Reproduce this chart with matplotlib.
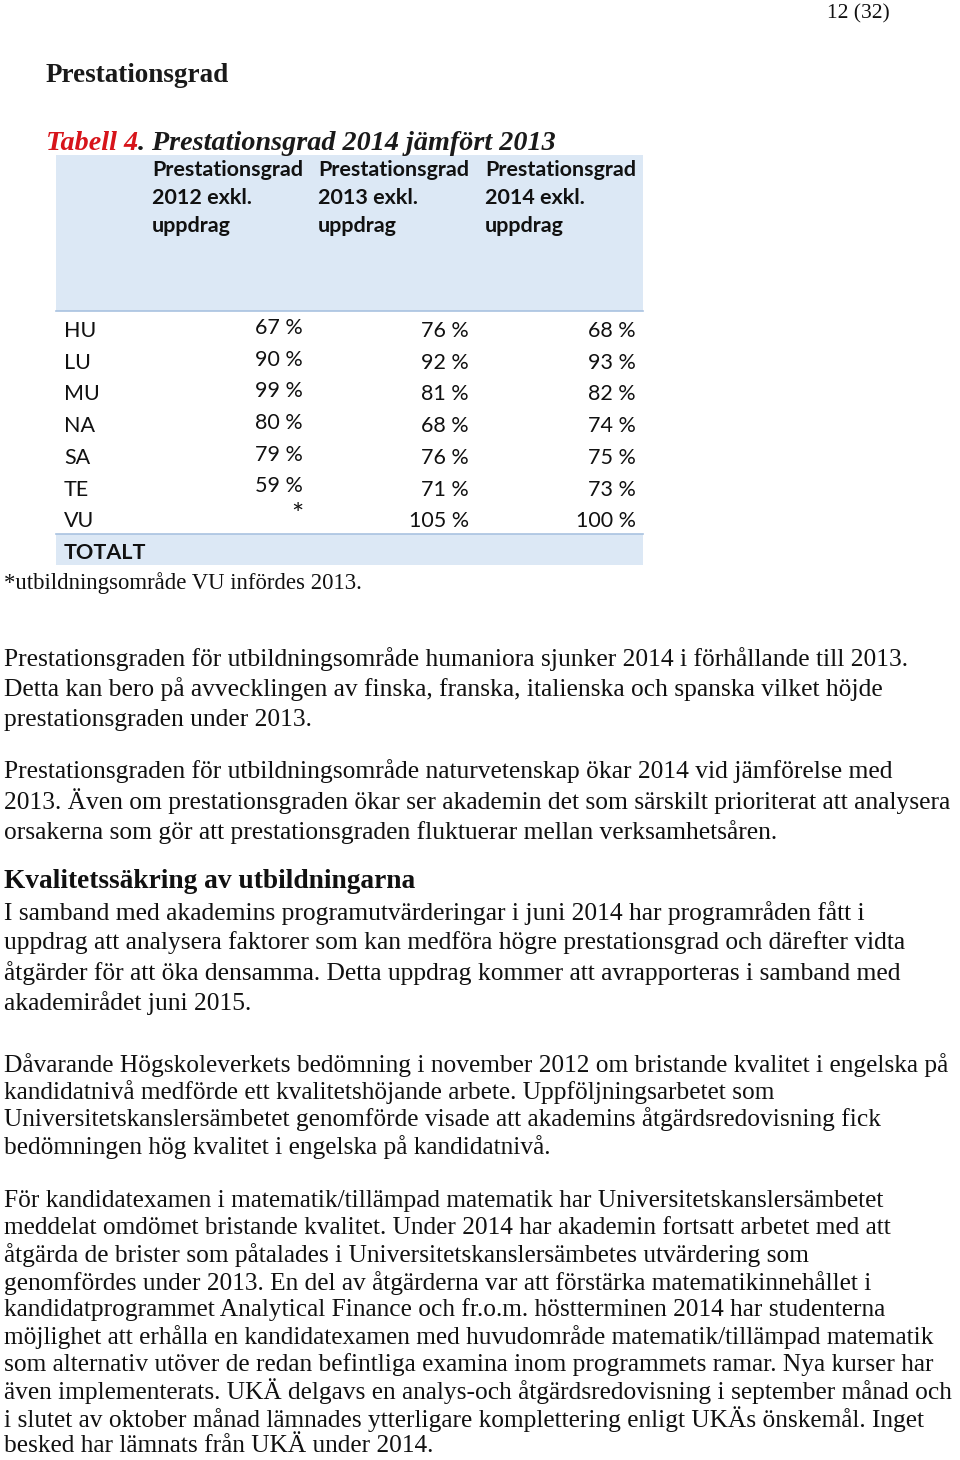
import matplotlib
matplotlib.use("Agg")
import matplotlib.pyplot as plt
from matplotlib.patches import Rectangle

# ---------------- data ----------------
page_label = "12 (32)"
section_title = "Prestationsgrad"
table_caption_red = "Tabell 4"
table_caption_rest = ". Prestationsgrad 2014 jämfört 2013"
col_headers = [
    ["Prestationsgrad", "2012 exkl.", "uppdrag"],
    ["Prestationsgrad", "2013 exkl.", "uppdrag"],
    ["Prestationsgrad", "2014 exkl.", "uppdrag"],
]
categories = ["HU", "LU", "MU", "NA", "SA", "TE", "VU"]
grad_2012 = [67, 90, 99, 80, 79, 59, None]
grad_2013 = [76, 92, 81, 68, 76, 71, 105]
grad_2014 = [68, 93, 82, 74, 75, 73, 100]
total_label = "TOTALT"
footnote = "*utbildningsområde VU infördes 2013."

para1 = ["Prestationsgraden för utbildningsområde humaniora sjunker 2014 i förhållande till 2013.",
         "Detta kan bero på avvecklingen av finska, franska, italienska och spanska vilket höjde",
         "prestationsgraden under 2013."]
para2 = ["Prestationsgraden för utbildningsområde naturvetenskap ökar 2014 vid jämförelse med",
         "2013. Även om prestationsgraden ökar ser akademin det som särskilt prioriterat att analysera",
         "orsakerna som gör att prestationsgraden fluktuerar mellan verksamhetsåren."]
heading2 = "Kvalitetssäkring av utbildningarna"
para3 = ["I samband med akademins programutvärderingar i juni 2014 har programråden fått i",
         "uppdrag att analysera faktorer som kan medföra högre prestationsgrad och därefter vidta",
         "åtgärder för att öka densamma. Detta uppdrag kommer att avrapporteras i samband med",
         "akademirådet juni 2015."]
para4 = ["Dåvarande Högskoleverkets bedömning i november 2012 om bristande kvalitet i engelska på",
         "kandidatnivå medförde ett kvalitetshöjande arbete. Uppföljningsarbetet som",
         "Universitetskanslersämbetet genomförde visade att akademins åtgärdsredovisning fick",
         "bedömningen hög kvalitet i engelska på kandidatnivå."]
para5 = ["För kandidatexamen i matematik/tillämpad matematik har Universitetskanslersämbetet",
         "meddelat omdömet bristande kvalitet. Under 2014 har akademin fortsatt arbetet med att",
         "åtgärda de brister som påtalades i Universitetskanslersämbetes utvärdering som",
         "genomfördes under 2013. En del av åtgärderna var att förstärka matematikinnehållet i",
         "kandidatprogrammet Analytical Finance och fr.o.m. höstterminen 2014 har studenterna",
         "möjlighet att erhålla en kandidatexamen med huvudområde matematik/tillämpad matematik",
         "som alternativ utöver de redan befintliga examina inom programmets ramar. Nya kurser har",
         "även implementerats. UKÄ delgavs en analys-och åtgärdsredovisning i september månad och",
         "i slutet av oktober månad lämnades ytterligare komplettering enligt UKÄs önskemål. Inget",
         "besked har lämnats från UKÄ under 2014."]

# ---------------- layout ----------------
W, H = 960, 1460
fig = plt.figure(figsize=(W / 100, H / 100), dpi=100)
ax = fig.add_axes([0, 0, 1, 1])
ax.set_xlim(0, W)
ax.set_ylim(H, 0)
ax.axis("off")
renderer = fig.canvas.get_renderer()

SERIF = "Liberation Serif"
SANS = "Lato"
DY = 2  # shift so visual centre of glyphs matches reference


def width_px(s, family, size, weight="normal", style="normal"):
    t = ax.text(0, 0, s, fontfamily=family, fontsize=size, fontweight=weight, fontstyle=style)
    w = t.get_window_extent(renderer).width
    t.remove()
    return w


def fit(s, family, target, weight="normal", style="normal"):
    return 10 * target / width_px(s, family, 10, weight, style)


# body text sizes: widest line must stay within the page width
body_size = min(min(fit(l, SERIF, 950) for l in para1 + para2 + para3), fit(para2[1], SERIF, 950))
body_size2 = min(fit(l, SERIF, 950) for l in para4 + para5)

ax.text(890, 12 + DY, page_label, fontfamily=SERIF, fontsize=fit(page_label, SERIF, 63),
        ha="right", va="center", color="#111111")
ax.text(46, 73 + DY, section_title, fontfamily=SERIF, fontweight="bold",
        fontsize=fit(section_title, SERIF, 184, "bold"), ha="left", va="center", color="#1a1a1a")

cap_size = fit(table_caption_red + table_caption_rest, SERIF, 511, "bold", "italic")
t = ax.text(46, 141 + DY, table_caption_red, fontfamily=SERIF, fontweight="bold", fontstyle="italic",
            fontsize=cap_size, color="#d7141a", ha="left", va="center")
wr = t.get_window_extent(renderer).width
ax.text(46 + wr, 141 + DY, table_caption_rest, fontfamily=SERIF, fontweight="bold", fontstyle="italic",
        fontsize=cap_size, color="#1a1a1a", ha="left", va="center")

# table
bg = "#dce8f5"
line_c = "#a9c2e0"
ax.add_patch(Rectangle((56, 155), 587, 156, facecolor=bg, edgecolor="none"))
ax.plot([56, 643], [311, 311], color=line_c, lw=1.2)
ax.add_patch(Rectangle((56, 534), 587, 31, facecolor=bg, edgecolor="none"))
ax.plot([56, 643], [534, 534], color=line_c, lw=1.2)

hdr_size = fit("Prestationsgrad", SANS, 151, "bold")
col_x = [152, 318, 485]
for cx, lines in zip(col_x, col_headers):
    for j, ln in enumerate(lines):
        ax.text(cx, 168 + DY + j * 28, ln, fontfamily=SANS, fontweight="bold", fontsize=hdr_size,
                ha="left", va="center", color="#111111")

cell_size = hdr_size * 1.0
row_y0, row_dy = 329 + DY, 31.7
right_x = [303, 469, 636]
col_shift = [-3, 0, 0]
for i, cat in enumerate(categories):
    y = row_y0 + i * row_dy
    ax.text(64, y, cat, fontfamily=SANS, fontsize=cell_size, ha="left", va="center", color="#111111")
    for k, series in enumerate([grad_2012, grad_2013, grad_2014]):
        v = series[i]
        if v is None:
            ax.text(right_x[k], y - 5, "*", fontfamily=SANS, fontsize=cell_size * 1.35,
                    ha="right", va="center", color="#111111")
        else:
            ax.text(right_x[k], y + col_shift[k], f"{v} %", fontfamily=SANS, fontsize=cell_size,
                    ha="right", va="center", color="#111111")
ax.text(64, 551 + DY, total_label, fontfamily=SANS, fontweight="bold", fontsize=cell_size,
        ha="left", va="center", color="#111111")

ax.text(4, 581 + DY, footnote, fontfamily=SERIF, fontsize=fit(footnote, SERIF, 358),
        ha="left", va="center", color="#111111")


def block(lines, y0, dy, size, weight="normal"):
    for i, ln in enumerate(lines):
        ax.text(4, y0 + DY + i * dy, ln, fontfamily=SERIF, fontsize=size, fontweight=weight,
                ha="left", va="center", color="#111111")


block(para1, 657, 30.5, body_size)
block(para2, 769, 30.5, body_size)
ax.text(4, 880 + DY, heading2, fontfamily=SERIF, fontweight="bold",
        fontsize=fit(heading2, SERIF, 413, "bold"), ha="left", va="center", color="#111111")
block(para3, 911, 30.0, body_size)
block(para4, 1063, 27.2, body_size2)
block(para5, 1199, 27.2, body_size2)

fig.savefig("out.png", dpi=100, facecolor="white")
